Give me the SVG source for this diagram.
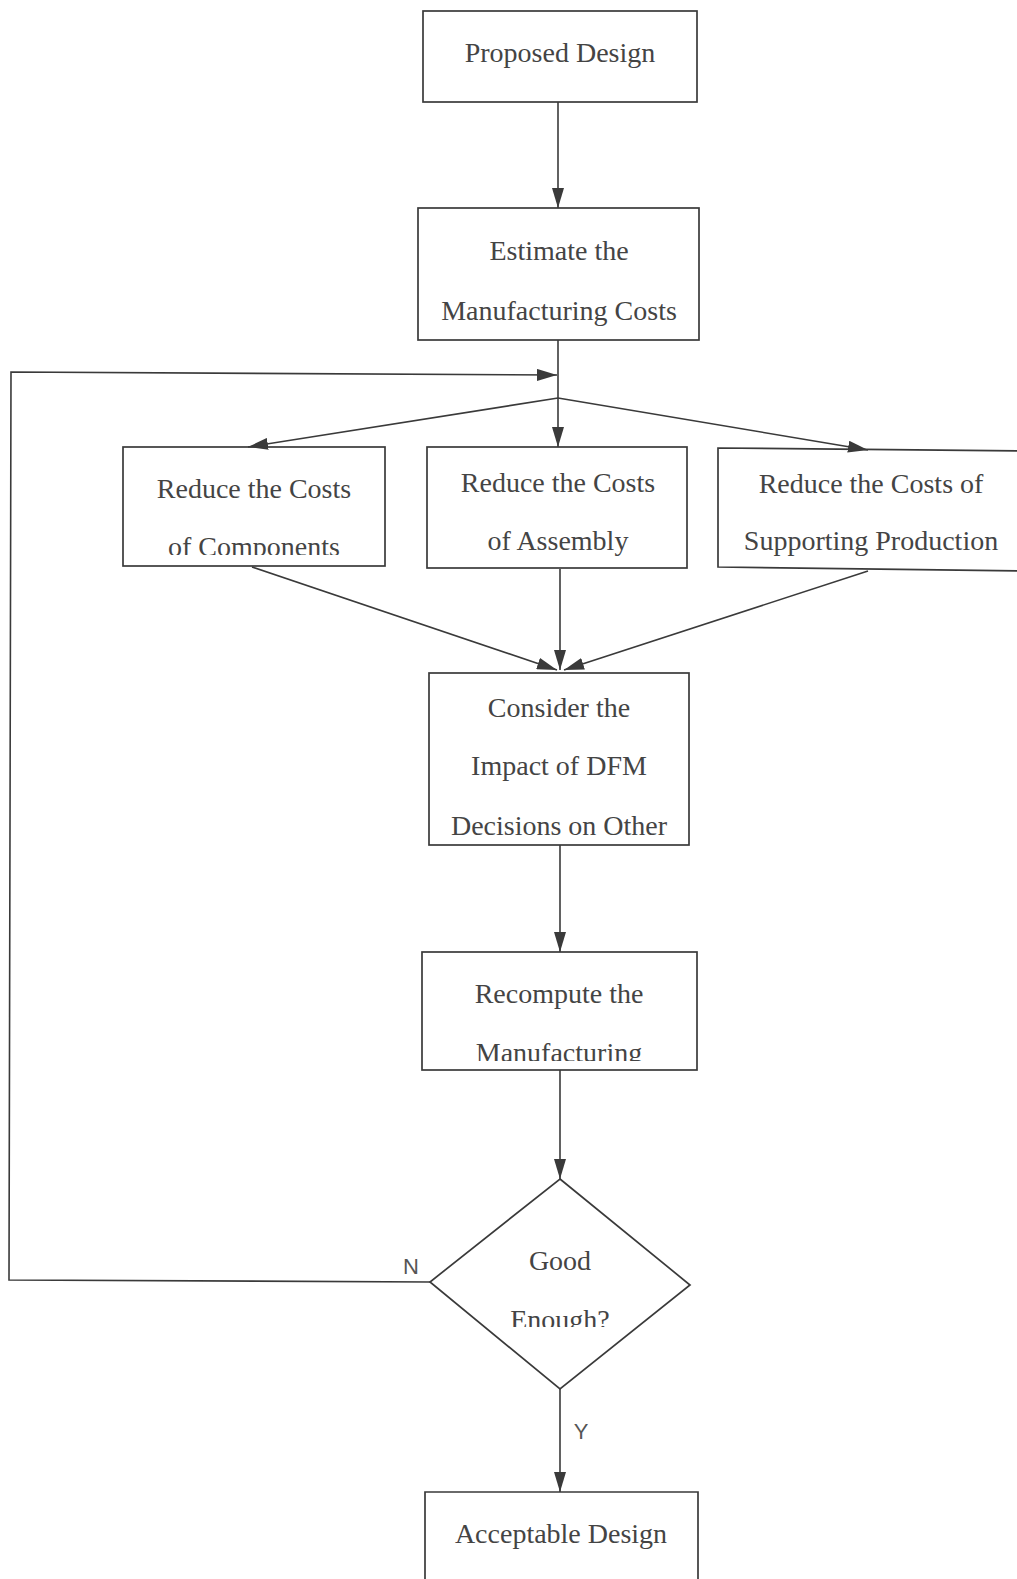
<svg xmlns="http://www.w3.org/2000/svg" width="1017" height="1579" viewBox="0 0 1017 1579">
<style>
.box{fill:none;stroke:#3a3a3a;stroke-width:1.7}
.t{font-family:"Liberation Serif","Times New Roman",serif;font-size:28px;fill:#444;text-anchor:middle}
.lbl{font-family:"Liberation Sans",Arial,sans-serif;font-size:22px;fill:#555;text-anchor:middle}
.c{fill:none;stroke:#3a3a3a;stroke-width:1.6}
</style>
<defs>
<marker id="ah" markerWidth="20" markerHeight="12" refX="20" refY="6" orient="auto" markerUnits="userSpaceOnUse">
<path d="M0,0 L20,6 L0,12 z" fill="#3a3a3a"/>
</marker>
<clipPath id="clipComp"><rect x="123" y="447" width="262" height="108"/></clipPath>
<clipPath id="clipRecomp"><rect x="422" y="952" width="275" height="109"/></clipPath>
<clipPath id="clipGood"><rect x="430" y="1179" width="260" height="148"/></clipPath>
</defs>
<rect width="1017" height="1579" fill="#fff"/>
<g id="connectors">
<path class="c" d="M558,102 L558,208" marker-end="url(#ah)"/>
<path class="c" d="M558,340 L558,447" marker-end="url(#ah)"/>
<path class="c" d="M430,1282 L9,1280 L11,372 L557,375" marker-end="url(#ah)"/>
<path class="c" d="M558,398 L248,447" marker-end="url(#ah)"/>
<path class="c" d="M558,398 L868,450" marker-end="url(#ah)"/>
<path class="c" d="M252,567 L557,670" marker-end="url(#ah)"/>
<path class="c" d="M560,569 L560,670" marker-end="url(#ah)"/>
<path class="c" d="M868,571 L564,670" marker-end="url(#ah)"/>
<path class="c" d="M560,845 L560,952" marker-end="url(#ah)"/>
<path class="c" d="M560,1070 L560,1179" marker-end="url(#ah)"/>
<path class="c" d="M560,1389 L560,1492" marker-end="url(#ah)"/>
<text class="lbl" x="411" y="1274">N</text>
<text class="lbl" x="581" y="1439">Y</text>
</g>
<g id="n-proposed">
<rect class="box" x="423" y="11" width="274" height="91"/>
<text class="t" x="560" y="62">Proposed Design</text>
</g>
<g id="n-estimate">
<rect class="box" x="418" y="208" width="281" height="132"/>
<text class="t" x="559" y="260">Estimate the</text>
<text class="t" x="559" y="320">Manufacturing Costs</text>
</g>
<g id="n-components">
<rect class="box" x="123" y="447" width="262" height="119"/>
<text class="t" x="254" y="498">Reduce the Costs</text>
<text class="t" x="254" y="556" clip-path="url(#clipComp)">of Components</text>
</g>
<g id="n-assembly">
<rect class="box" x="427" y="447" width="260" height="121"/>
<text class="t" x="558" y="492">Reduce the Costs</text>
<text class="t" x="558" y="550">of Assembly</text>
</g>
<g id="n-supporting">
<path class="box" d="M1025,451 L718,448 L718,567 L1025,571"/>
<text class="t" x="871" y="493">Reduce the Costs of</text>
<text class="t" x="871" y="550">Supporting Production</text>
</g>
<g id="n-consider">
<rect class="box" x="429" y="673" width="260" height="172"/>
<text class="t" x="559" y="717">Consider the</text>
<text class="t" x="559" y="775">Impact of DFM</text>
<text class="t" x="559" y="835">Decisions on Other</text>
</g>
<g id="n-recompute">
<rect class="box" x="422" y="952" width="275" height="118"/>
<text class="t" x="559" y="1003">Recompute the</text>
<text class="t" x="559" y="1062" clip-path="url(#clipRecomp)">Manufacturing</text>
</g>
<g id="n-good">
<polygon class="box" points="560,1179 690,1285 560,1389 430,1282"/>
<text class="t" x="560" y="1270">Good</text>
<text class="t" x="560" y="1329" clip-path="url(#clipGood)">Enough?</text>
</g>
<g id="n-acceptable">
<path class="box" d="M425,1590 L425,1492 L698,1492 L698,1590"/>
<text class="t" x="561" y="1543">Acceptable Design</text>
</g>
</svg>
